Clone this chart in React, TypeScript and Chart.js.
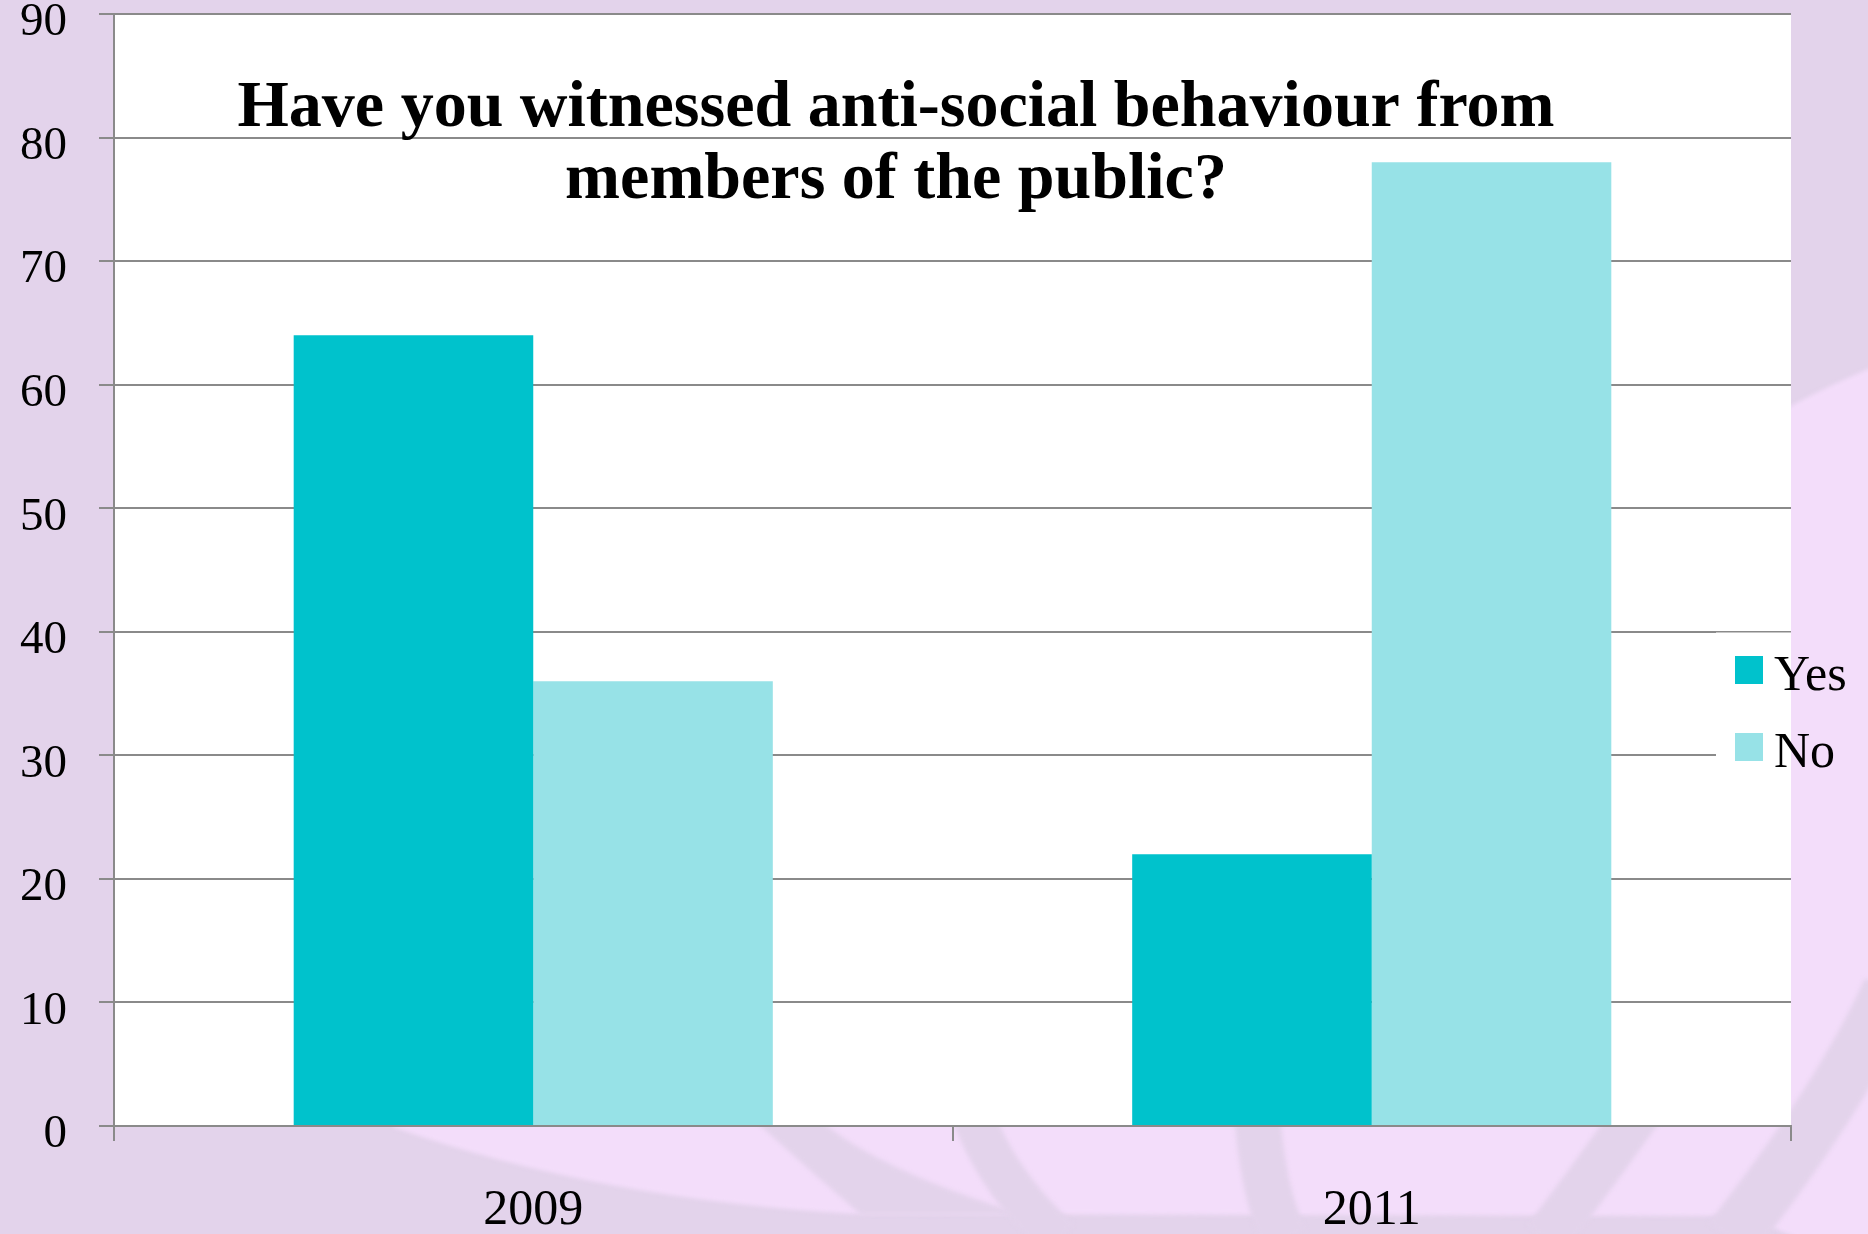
import React, { useEffect, useRef } from "react";
import { Chart, registerables } from "chart.js";

Chart.register(...registerables);

// ---- data ----
const categories: string[] = ["2009", "2011"];
const seriesNames: string[] = ["Yes", "No"];
const yesValues: number[] = [64, 22];
const noValues: number[] = [36, 78];
const seriesColors: string[] = ["#00C2CC", "#97E2E7"];
const titleLines: string[] = [
  "Have you witnessed anti-social behaviour from",
  "members of the public?",
];
const yMin = 0;
const yMax = 90;
const yStep = 10;

// ---- styles ----
const BASE_BG = "#E3D3EB";
const LIGHT_BG = "#F3DDFA";
const GRID = "#8a8a8a";
const SERIF = "'Liberation Serif', 'Times New Roman', serif";

const backgroundPlugin = {
  id: "slideBackground",
  beforeDraw(chart: any) {
    const ctx = chart.ctx as CanvasRenderingContext2D;
    const W = chart.width;
    const H = chart.height;
    ctx.save();
    ctx.fillStyle = BASE_BG;
    ctx.fillRect(0, 0, W, H);

    ctx.filter = "blur(2px)";
    ctx.fillStyle = LIGHT_BG;
    ctx.beginPath();
    ctx.moveTo(393, 1127);
    ctx.quadraticCurveTo(600, 1200, 858, 1214);
    ctx.lineTo(1745, 1216);
    ctx.lineTo(1800, H + 5);
    ctx.lineTo(W + 5, H + 5);
    ctx.lineTo(W + 5, 367);
    ctx.quadraticCurveTo(1830, 385, 1791, 406);
    ctx.lineTo(1500, 600);
    ctx.lineTo(400, 1100);
    ctx.closePath();
    ctx.fill();

    ctx.fillStyle = BASE_BG;
    ctx.beginPath();
    ctx.moveTo(754, 1120);
    ctx.quadraticCurveTo(807, 1168, 861, 1215);
    ctx.lineTo(1025, 1215);
    ctx.quadraticCurveTo(877, 1170, 820, 1120);
    ctx.closePath();
    ctx.fill();

    const band = (x0: number, y0: number, cx: number, cy: number, x1: number, y1: number, w: number) => {
      ctx.strokeStyle = BASE_BG;
      ctx.lineWidth = w;
      ctx.lineCap = "butt";
      ctx.beginPath();
      ctx.moveTo(x0, y0);
      ctx.quadraticCurveTo(cx, cy, x1, y1);
      ctx.stroke();
    };
    band(971, 1110, 995, 1180, 1060, 1240, 42);
    band(1257, 1110, 1262, 1190, 1285, 1240, 46);
    band(1640, 1110, 1590, 1180, 1545, 1240, 46);
    band(1890, 990, 1840, 1100, 1730, 1240, 55);
    ctx.filter = "none";

    const a = chart.chartArea;
    ctx.fillStyle = "#ffffff";
    ctx.fillRect(a.left, a.top, a.right - a.left, a.bottom - a.top);
    ctx.restore();
  },
};

const overlayPlugin = {
  id: "titleAndLegend",
  afterDraw(chart: any) {
    const ctx = chart.ctx as CanvasRenderingContext2D;
    const a = chart.chartArea;
    ctx.save();
    // legend box (covers gridlines)
    ctx.fillStyle = "#ffffff";
    ctx.fillRect(1716, 632.5, a.right - 1716, 190);

    const ds = chart.data.datasets;
    const legendTop = [656, 733];
    ds.forEach((d: any, i: number) => {
      ctx.fillStyle = d.backgroundColor;
      ctx.fillRect(1735, legendTop[i], 28, 28);
      ctx.fillStyle = "#000";
      ctx.font = `50px ${SERIF}`;
      ctx.textAlign = "left";
      ctx.textBaseline = "alphabetic";
      ctx.fillText(d.label, 1774, legendTop[i] + 34);
    });

    // title
    ctx.fillStyle = "#000";
    ctx.font = `bold 66px ${SERIF}`;
    ctx.textAlign = "center";
    ctx.textBaseline = "alphabetic";
    const baselines = [126, 198];
    titleLines.forEach((t, i) => ctx.fillText(t, 896, baselines[i]));
    ctx.restore();
  },
};

export default function App() {
  const ref = useRef<HTMLCanvasElement | null>(null);

  useEffect(() => {
    document.body.style.margin = "0";
    const canvas = ref.current;
    if (!canvas) return;
    const chart = new Chart(canvas, {
      type: "bar",
      data: {
        labels: categories,
        datasets: [
          {
            label: seriesNames[0],
            data: yesValues,
            backgroundColor: seriesColors[0],
            borderWidth: 0,
            categoryPercentage: 0.5714,
            barPercentage: 1,
          },
          {
            label: seriesNames[1],
            data: noValues,
            backgroundColor: seriesColors[1],
            borderWidth: 0,
            categoryPercentage: 0.5714,
            barPercentage: 1,
          },
        ],
      },
      options: {
        responsive: false,
        animation: false,
        devicePixelRatio: 1,
        layout: { padding: { top: 14, right: 77, left: 0, bottom: 0 } },
        plugins: {
          legend: { display: false },
          title: { display: false },
          tooltip: { enabled: false },
        },
        scales: {
          x: {
            type: "category",
            offset: true,
            grid: {
              display: true,
              drawOnChartArea: false,
              drawTicks: true,
              tickLength: 15,
              color: GRID,
              lineWidth: 2,
              offset: true,
            },
            border: { display: true, color: GRID, width: 2 },
            ticks: {
              color: "#000",
              font: { family: SERIF, size: 50 },
              padding: 40,
              maxRotation: 0,
            },
            afterFit: (s: any) => {
              s.height = 108;
              s.paddingLeft = 0;
              s.paddingRight = 0;
            },
          },
          y: {
            min: yMin,
            max: yMax,
            ticks: {
              stepSize: yStep,
              color: "#000",
              font: { family: SERIF, size: 47 },
              padding: 32,
              labelOffset: 9,
            },
            grid: {
              color: GRID,
              lineWidth: 2,
              tickLength: 15,
              drawTicks: true,
            },
            border: { display: true, color: GRID, width: 2 },
            afterFit: (s: any) => {
              s.width = 114;
              s.paddingTop = 0;
              s.paddingBottom = 0;
            },
          },
        },
      },
      plugins: [backgroundPlugin, overlayPlugin],
    });
    return () => chart.destroy();
  }, []);

  return (
    <canvas
      ref={ref}
      width={1868}
      height={1234}
      style={{ display: "block", width: 1868, height: 1234 }}
    />
  );
}
